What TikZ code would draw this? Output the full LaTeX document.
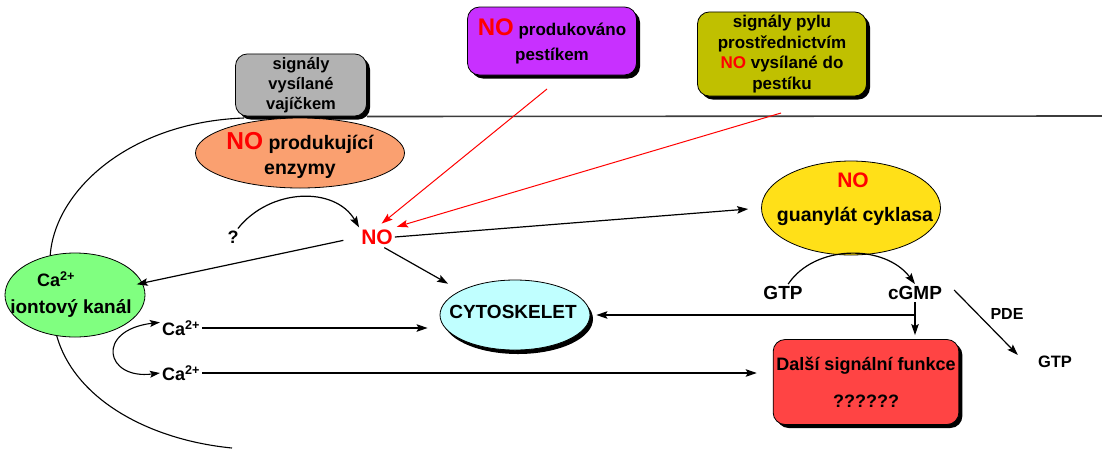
\documentclass[tikz,border=0pt]{standalone}
\usepackage{fontspec}
\setmainfont{Liberation Sans}
\usetikzlibrary{arrows.meta,shadows,shapes.geometric}
\definecolor{eggc}{RGB}{178,178,178}
\definecolor{enzc}{RGB}{250,160,112}
\definecolor{pisc}{RGB}{200,48,255}
\definecolor{polc}{RGB}{192,192,0}
\definecolor{gcc}{RGB}{255,224,24}
\definecolor{chanc}{RGB}{128,255,128}
\definecolor{cytc}{RGB}{192,255,255}
\definecolor{sigc}{RGB}{255,68,68}
\definecolor{rimc}{RGB}{60,60,60}
\newcommand{\fsz}[2]{\bfseries\fontsize{#1}{#2}\selectfont}
\begin{document}
\begin{tikzpicture}[x=1pt,y=-1pt,
  arr/.style={-{Stealth[length=11pt,width=7.5pt,inset=2pt]},line width=1.2pt},
  redarr/.style={arr,red,line width=1pt},
  box/.style={draw,rounded corners=12pt,line width=0.8pt,align=center,
    drop shadow={shadow xshift=3.5pt,shadow yshift=-3.5pt,opacity=1,fill=black}},
  oval/.style={ellipse,draw,line width=0.8pt,inner sep=0pt},
  lbl/.style={align=center,inner sep=2pt},
]
\useasboundingbox (0,0) rectangle (1102,448);

% signal boxes at the top
\node[box,fill=eggc,minimum width=131pt,minimum height=62pt,font=\fsz{16.5}{20}] (egg) at (301,85) {signály\\vysílané\\vajíčkem};
\node[box,fill=pisc,minimum width=169pt,minimum height=68pt,font=\fsz{17}{25}] (pis) at (552,41) {{\color{red}\fontsize{24}{25}\selectfont NO} produkováno\\pestíkem};
\node[box,fill=polc,minimum width=169pt,minimum height=82pt,font=\fsz{17}{20.5}] (pol) at (782,54) {signály pylu\\prostřednictvím\\{\color{red}NO} vysílané do\\pestíku};

% cell boundary
\coordinate (rimR) at (1102,116);
\draw[rimc,line width=1.6pt] (egg.south east) -- (rimR);

% enzymes, channel, cytoskeleton, cyclase
\node[oval,fill=enzc,minimum width=209pt,minimum height=70pt] (enz) at (300,153) {};
\node[lbl,font=\fsz{19.5}{25}] (enzt) at (300,155) {{\color{red}\fontsize{24.5}{25}\selectfont NO} produkující\\enzymy};

\node[oval,fill=chanc,minimum width=140pt,minimum height=84pt] (chan) at (75,295) {};
\node[lbl,font=\fsz{18}{20}] (chanca) at (56,279) {Ca\textsuperscript{2+}};
\node[lbl,font=\fsz{19}{20}] (chant) at (71,308) {iontový kanál};

\node[oval,fill=cytc,minimum width=150pt,minimum height=70pt,
  drop shadow={shadow xshift=3pt,shadow yshift=-4pt,opacity=1,fill=black}] (cyto) at (515,315) {};
\node[lbl,font=\fsz{19}{20}] (cytot) at (513,312) {CYTOSKELET};

\node[oval,fill=gcc,minimum width=179pt,minimum height=94pt] (gc) at (851,208) {};
\node[lbl,font=\fsz{21}{22},text=red] (gcno) at (853,180) {NO};
\node[lbl,font=\fsz{19.5}{22}] (gct) at (855,216) {guanylát cyklasa};

\node[box,fill=sigc,minimum width=180pt,minimum height=85pt,font=\fsz{18}{37}] (fn) at (866,382) {Další signální funkce\\??????};

% free labels
\node[lbl,font=\fsz{21}{22},text=red] (no) at (377,237) {NO};
\node[lbl,font=\fsz{18}{20}] (q) at (233,237) {?};
\node[lbl,font=\fsz{18}{20}] (ca1) at (181,328) {Ca\textsuperscript{2+}};
\node[lbl,font=\fsz{18}{20}] (ca2) at (181,373) {Ca\textsuperscript{2+}};
\node[lbl,font=\fsz{19}{20}] (gtp) at (783,293) {GTP};
\node[lbl,font=\fsz{19}{20}] (cgmp) at (915,293) {cGMP};
\node[lbl,font=\fsz{16}{17}] (pde) at (1007,314) {PDE};
\node[lbl,font=\fsz{16.5}{17}] (gtp2) at (1055,362) {GTP};

% membrane outline
\coordinate (rimL) at (244,118);
\coordinate (rimB) at (232,448);
\draw[line width=1.1pt] (rimL) .. controls (130,122) and (55,190) .. (chan.122);
\draw[line width=1.1pt] (chan.246) .. controls (75,400) and (150,440) .. (rimB);

% signals reaching NO
\coordinate (pisS) at (547,89);
\coordinate (polS) at (781,113);
\draw[redarr,shorten >=6pt] (pisS) -- (no.north);
\draw[redarr,shorten >=2pt] (polS) -- (no.north east);
\draw[arr] (q.60) .. controls (270,188) and (335,186) .. (no.north west);

% NO targets
\draw[arr,shorten <=16pt,shorten >=-6pt] (no.west) -- (chan.10);
\draw[arr,shorten <=2pt,shorten >=14pt] (no.300) -- (cyto.156);
\draw[arr,shorten >=13pt] (no.east) -- (gc.west);

% calcium
\draw[arr,shorten >=12pt] (ca1.east) -- (ca1.east -| cyto.west);
\draw[arr,shorten >=16pt] (ca2.east) -- (ca2.east -| fn.west);
\draw[{Stealth[length=10pt,width=7pt,inset=2pt]}-{Stealth[length=10pt,width=7pt,inset=2pt]},line width=1.1pt]
  (ca1.165) .. controls (95,330) and (105,380) .. (ca2.west);

% cGMP branch
\draw[arr] (gtp.60) .. controls (815,244) and (885,244) .. (cgmp.north);
\coordinate (jn) at (cgmp.south |- cyto.east);
\draw[arr,shorten >=4pt] (cgmp.south) -- (cgmp.south |- fn.north);
\draw[arr,shorten >=6pt] (jn) -- (cyto.east);
\draw[arr] ([xshift=10pt,yshift=3pt]cgmp.east) -- ([xshift=-18pt,yshift=7pt]gtp2.west);
\end{tikzpicture}
\end{document}
